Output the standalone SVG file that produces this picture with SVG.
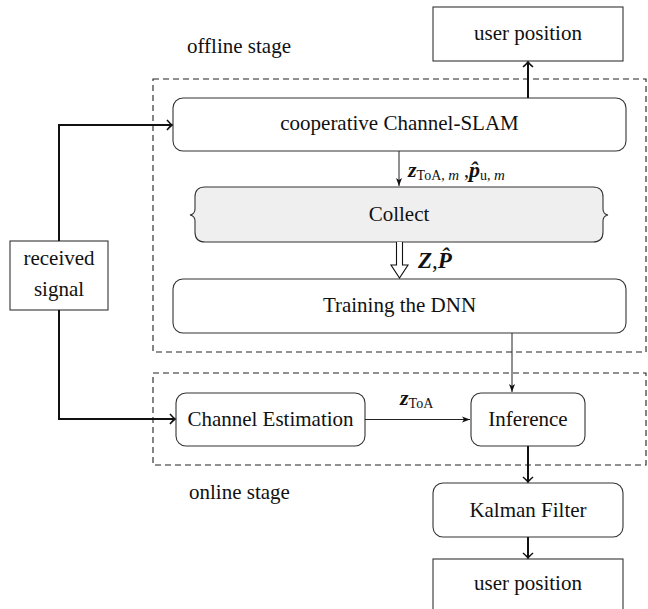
<svg xmlns="http://www.w3.org/2000/svg" width="648" height="609" viewBox="0 0 648 609">
<defs>
<style>
.box{fill:#fff;stroke:#333;stroke-width:1.1}
.dash{fill:none;stroke:#222;stroke-width:1.1;stroke-dasharray:6,4}
.t{font-family:"Liberation Serif","Times New Roman",serif;font-size:21px;fill:#111}
.c{text-anchor:middle}
.m{font-family:"Liberation Serif","Times New Roman",serif;font-weight:bold;font-style:italic;fill:#111}
.sub{font-family:"Liberation Serif","Times New Roman",serif;fill:#111}
.thick{fill:none;stroke:#111;stroke-width:2}
.thin{fill:none;stroke:#222;stroke-width:1}
</style>
<marker id="open" markerUnits="userSpaceOnUse" markerWidth="14" markerHeight="14" refX="7" refY="7" orient="auto" overflow="visible">
<path d="M 2,2 Q 5.5,6 7,7 Q 5.5,8 2,12" fill="none" stroke="#111" stroke-width="1.6"/>
</marker>
<marker id="fill" markerUnits="userSpaceOnUse" markerWidth="10" markerHeight="10" refX="8" refY="5" orient="auto" overflow="visible">
<path d="M 0,2 L 8,5 L 0,8 L 2,5 Z" fill="#111"/>
</marker>
</defs>

<g id="offline-frame"><rect class="dash" x="153" y="79" width="493" height="273"/></g>
<g id="online-frame"><rect class="dash" x="153" y="373" width="493" height="92"/></g>
<text class="t" x="187" y="53">offline stage</text>
<text class="t" x="189" y="499">online stage</text>

<g id="user-position-top"><rect class="box" x="433" y="7" width="190" height="54"/><text class="t c" x="528" y="40">user position</text></g>
<g id="slam"><rect class="box" x="173" y="98" width="453" height="53" rx="10"/><text class="t c" x="399.5" y="130">cooperative Channel-SLAM</text></g>
<g id="collect"><path d="M 205,187 H 593 Q 603,187 603,197 V 209 Q 603,214 608,215 Q 603,216 603,221 V 232 Q 603,242 593,242 H 205 Q 195,242 195,232 V 221 Q 195,216 190,215 Q 195,214 195,209 V 197 Q 195,187 205,187 Z" fill="#efefef" stroke="#333" stroke-width="1.1"/><text class="t c" x="399" y="221">Collect</text></g>
<g id="training"><rect class="box" x="173" y="279" width="453" height="54" rx="10"/><text class="t c" x="399.5" y="312">Training the DNN</text></g>
<g id="received"><rect class="box" x="10" y="241" width="98" height="69"/><text class="t c" x="59" y="265">received</text><text class="t c" x="59" y="296">signal</text></g>
<g id="channel-estimation"><rect class="box" x="176" y="393" width="189" height="53" rx="10"/><text class="t c" x="270.5" y="426">Channel Estimation</text></g>
<g id="inference"><rect class="box" x="471" y="393" width="114" height="53" rx="10"/><text class="t c" x="528" y="426">Inference</text></g>
<g id="kalman"><rect class="box" x="433" y="483" width="190" height="54" rx="10"/><text class="t c" x="528" y="517">Kalman Filter</text></g>
<g id="user-position-bottom"><rect class="box" x="433" y="559" width="190" height="56"/><text class="t c" x="528" y="590">user position</text></g>

<g id="connectors">
<path class="thick" d="M 528,98 V 62" marker-end="url(#open)"/>
<path class="thick" d="M 59,241 V 125 H 172" marker-end="url(#open)"/>
<path class="thick" d="M 59,310 V 419 H 175" marker-end="url(#open)"/>
<path class="thin" d="M 399,151 V 186" marker-end="url(#fill)"/>
<path class="thin" d="M 512,333 V 392" marker-end="url(#fill)"/>
<path class="thin" d="M 365,419.5 H 470" marker-end="url(#fill)"/>
<path class="thick" d="M 528,446 V 482" marker-end="url(#open)"/>
<path class="thick" d="M 528,537 V 558" marker-end="url(#open)"/>
<path d="M 396.5,242 V 265 H 391 L 399.5,278 L 408,265 H 402.5 V 242" fill="#fff" stroke="#111" stroke-width="1.1"/>
<text x="408" y="177"><tspan class="m" font-size="22">z</tspan><tspan class="sub" font-size="14" dy="3">ToA</tspan><tspan class="sub" font-size="14">, </tspan><tspan class="sub" font-style="italic" font-size="15">m</tspan><tspan class="sub" font-size="20" dy="-3"> ,</tspan><tspan class="m" font-size="22">p̂</tspan><tspan class="sub" font-size="14" dy="3">u</tspan><tspan class="sub" font-size="14">, </tspan><tspan class="sub" font-style="italic" font-size="15">m</tspan></text>
<text x="418" y="268"><tspan class="m" font-size="23">Z</tspan><tspan class="sub" font-size="23">,</tspan><tspan class="m" font-size="23">P̂</tspan></text>
<text x="400" y="405"><tspan class="m" font-size="22">z</tspan><tspan class="sub" font-size="14" dy="3">ToA</tspan></text>
</g>
</svg>
